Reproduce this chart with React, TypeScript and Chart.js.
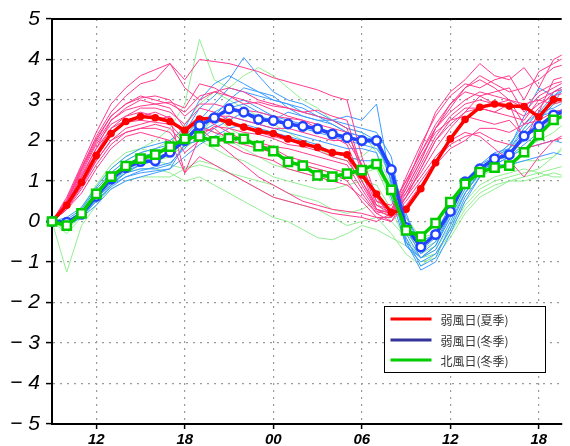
import React, { useEffect, useRef } from 'react';
import { Chart, registerables } from 'chart.js';

Chart.register(...registerables);

// hours since 00 of day 1 (09 .. 44 = 20 of day 2)
const HOURS = [9, 10, 11, 12, 13, 14, 15, 16, 17, 18, 19, 20, 21, 22, 23, 24, 25, 26, 27, 28, 29, 30, 31, 32, 33, 34, 35, 36, 37, 38, 39, 40, 41, 42, 43, 44];

const X_TICK_HOURS = [12, 18, 24, 30, 36, 42];
const X_TICK_LABELS = ['12', '18', '00', '06', '12', '18'];
const Y_MIN = -5;
const Y_MAX = 5;

const LEGEND_LABELS = ['弱風日(夏季)', '弱風日(冬季)', '北風日(冬季)'];

// bold mean lines
const RED_SUMMER = [0, 0.4, 0.97, 1.63, 2.17, 2.47, 2.59, 2.56, 2.47, 2.25, 2.53, 2.55, 2.45, 2.33, 2.23, 2.17, 2.04, 1.92, 1.83, 1.7, 1.65, 1.15, 0.68, 0.22, 0.3, 0.81, 1.45, 2.04, 2.52, 2.82, 2.9, 2.85, 2.84, 2.58, 3.01, 3.0];
const BLUE_WINTER = [0, -0.02, 0.18, 0.62, 1.05, 1.33, 1.48, 1.5, 1.71, 2.0, 2.37, 2.56, 2.78, 2.7, 2.52, 2.49, 2.41, 2.35, 2.29, 2.16, 2.07, 2.0, 2.0, 1.28, -0.15, -0.63, -0.32, 0.25, 0.98, 1.3, 1.55, 1.65, 2.11, 2.35, 2.63, 2.75];
const GREEN_NORTH = [0, -0.1, 0.2, 0.68, 1.11, 1.37, 1.55, 1.65, 1.85, 2.04, 2.1, 1.98, 2.06, 2.04, 1.86, 1.74, 1.47, 1.38, 1.14, 1.11, 1.18, 1.27, 1.42, 0.78, -0.22, -0.37, -0.04, 0.48, 0.93, 1.22, 1.33, 1.38, 1.71, 2.14, 2.51, 2.65];

// thin member lines: weak-wind summer days
const S1 = [0, 0.6, 1.4, 2.2, 2.9, 3.3, 3.6, 3.75, 3.9, 3.5, 4.0, 3.95, 3.9, 3.8, 3.7, 3.55, 3.45, 3.35, 3.25, 3.1, 3.0, 1.6, 0.6, 0.1, 0.9, 1.8, 2.7, 3.2, 3.5, 3.9, 3.6, 3.5, 3.8, 3.3, 4.0, 4.2];
const S2 = [0, 0.5, 1.3, 2.1, 2.7, 3.1, 3.4, 3.5, 3.9, 3.3, 3.0, 3.2, 3.1, 2.9, 2.95, 2.85, 2.8, 2.7, 2.75, 2.6, 2.5, 1.3, 0.4, 0.2, 1.1, 1.9, 2.6, 3.1, 3.4, 3.3, 3.5, 3.6, 3.0, 3.7, 3.9, 4.1];
const S3 = [0, 0.4, 1.0, 1.7, 2.3, 2.6, 2.8, 2.8, 2.7, 2.4, 2.8, 2.7, 2.5, 2.3, 2.2, 2.1, 2.0, 1.9, 1.85, 1.7, 1.6, 0.9, 0.3, 0.1, 0.7, 1.4, 2.1, 2.6, 2.9, 3.0, 2.9, 2.8, 2.6, 2.9, 3.1, 3.2];
const S4 = [0, 0.3, 0.8, 1.4, 1.9, 2.2, 2.3, 2.3, 2.2, 1.7, 2.0, 2.1, 1.9, 1.7, 1.6, 1.5, 1.3, 1.2, 1.1, 1.0, 0.9, 0.6, 0.2, 0.3, 0.9, 1.6, 2.2, 2.5, 2.6, 2.5, 2.4, 2.5, 2.1, 2.3, 2.6, 2.7];
const S5 = [0, 0.3, 0.7, 1.3, 1.8, 2.1, 2.2, 2.1, 2.0, 1.2, 1.6, 1.4, 1.2, 1.0, 0.8, 0.6, 0.5, 0.4, 0.3, 0.2, 0.15, 0.1, 0.0, 0.2, 0.6, 1.1, 1.6, 2.0, 2.2, 2.1, 1.8, 1.5, 1.1, 1.6, 2.0, 2.2];
const S6 = [0, 0.5, 1.2, 1.9, 2.4, 2.6, 2.7, 2.6, 2.5, 2.2, 2.5, 2.6, 2.6, 2.5, 2.4, 2.3, 2.3, 2.2, 2.1, 2.0, 2.0, 1.4, 0.5, 0.4, 1.0, 1.7, 2.4, 2.9, 3.2, 3.1, 2.9, 3.0, 2.4, 2.8, 3.2, 3.4];
const S7 = [0, 0.4, 1.1, 1.8, 2.5, 2.8, 3.0, 2.9, 2.8, 2.3, 2.6, 2.4, 2.2, 2.0, 1.9, 1.8, 1.6, 1.5, 1.4, 1.3, 1.2, 0.7, 0.2, 0.0, 0.6, 1.3, 2.0, 2.5, 2.8, 2.8, 2.7, 2.6, 2.5, 3.0, 2.9, 3.0];
const S8 = [0, 0.5, 1.3, 2.0, 2.6, 2.9, 3.1, 3.0, 2.9, 2.7, 3.1, 3.2, 3.3, 3.2, 3.0, 2.9, 2.8, 2.7, 2.6, 2.5, 2.3, 1.2, 0.3, 0.2, 0.8, 1.5, 2.3, 2.8, 3.3, 3.6, 3.4, 3.2, 3.3, 3.5, 3.8, 3.9];
const S9 = [0, 0.3, 0.9, 1.5, 2.0, 2.3, 2.4, 2.5, 2.6, 2.1, 2.3, 2.0, 1.7, 1.4, 1.1, 0.9, 0.7, 0.5, 0.4, 0.3, 0.25, 0.2, 0.1, 0.1, 0.5, 1.0, 1.5, 1.9, 2.1, 2.2, 2.0, 1.9, 1.8, 1.9, 2.0, 2.1];
const S10 = [0, 0.45, 1.15, 1.8, 2.3, 2.5, 2.6, 2.7, 2.55, 1.2, 2.1, 2.35, 2.3, 2.2, 2.15, 2.05, 1.9, 1.85, 1.75, 1.6, 1.5, 1.0, 0.4, 0.3, 0.7, 1.2, 1.8, 2.3, 2.7, 2.8, 2.7, 2.9, 2.0, 2.7, 3.5, 3.6];
const S11 = [0, 0.55, 1.35, 2.05, 2.6, 2.9, 3.05, 3.1, 3.0, 2.6, 2.9, 2.9, 2.8, 2.75, 2.7, 2.6, 2.55, 2.5, 2.4, 2.3, 2.2, 1.4, 0.5, 0.3, 1.0, 1.7, 2.3, 2.7, 3.0, 3.2, 3.1, 3.0, 2.8, 3.2, 3.4, 3.5];
const S12 = [0, 0.35, 0.85, 1.5, 2.0, 2.2, 2.3, 2.4, 2.3, 1.9, 2.2, 2.3, 2.0, 1.9, 1.8, 1.7, 1.5, 1.4, 1.3, 1.2, 1.0, 0.5, 0.1, 0.0, 0.4, 0.9, 1.4, 1.8, 2.0, 2.3, 2.3, 2.2, 2.4, 2.5, 2.7, 2.8];
const S13 = [0, 0.5, 1.25, 1.95, 2.5, 2.75, 2.85, 2.9, 2.95, 2.8, 3.4, 3.3, 3.1, 3.0, 2.9, 2.75, 2.6, 2.5, 2.3, 2.1, 1.9, 1.0, 0.3, 0.2, 0.6, 1.3, 2.0, 2.4, 2.7, 3.1, 3.2, 3.3, 2.7, 3.1, 3.3, 3.5];
const S14 = [0, 0.45, 1.1, 1.7, 2.2, 2.45, 2.5, 2.45, 2.4, 2.0, 2.35, 2.2, 2.1, 2.0, 1.95, 1.85, 1.8, 1.7, 1.6, 1.5, 1.4, 0.8, 0.25, 0.15, 0.8, 1.5, 2.3, 2.9, 3.3, 3.5, 3.3, 3.0, 2.9, 3.0, 3.2, 3.3];
const SUMMER_RUNS = [S1, S2, S3, S4, S5, S6, S7, S8, S9, S10, S11, S12, S13, S14];

// thin member lines: weak-wind winter days
const W1 = [0, -0.1, 0.1, 0.5, 0.9, 1.2, 1.4, 1.5, 1.7, 2.2, 2.8, 3.1, 3.5, 4.05, 3.6, 3.2, 3.0, 2.9, 2.7, 2.5, 2.3, 2.2, 2.0, 1.0, -0.5, -0.9, -0.7, 0.0, 0.7, 1.2, 1.5, 1.7, 2.1, 2.5, 2.9, 3.5];
const W2 = [0, 0.0, 0.2, 0.7, 1.1, 1.4, 1.6, 1.7, 1.8, 2.1, 2.5, 2.9, 3.3, 3.2, 3.1, 3.0, 2.9, 2.7, 2.6, 2.5, 2.4, 2.3, 2.2, 1.6, -0.2, -0.8, -0.5, 0.2, 0.9, 1.4, 1.7, 1.8, 2.3, 2.7, 3.1, 3.3];
const W3 = [0, -0.05, 0.15, 0.55, 0.95, 1.2, 1.3, 1.3, 1.4, 1.9, 2.2, 2.4, 2.6, 2.5, 2.4, 2.3, 2.2, 2.1, 2.0, 1.9, 1.8, 1.8, 1.7, 0.6, -0.6, -1.0, -0.8, -0.2, 0.6, 1.1, 1.4, 1.6, 1.9, 2.2, 2.6, 2.9];
const W4 = [0, 0.05, 0.3, 0.8, 1.2, 1.5, 1.7, 1.8, 1.9, 2.0, 2.4, 2.7, 2.9, 3.0, 2.8, 2.6, 2.5, 2.4, 2.3, 2.2, 2.1, 2.0, 1.9, 1.2, 0.1, -0.5, -0.3, 0.4, 1.0, 1.3, 1.4, 1.4, 1.5, 1.6, 1.7, 1.6];
const W5 = [0, -0.1, 0.1, 0.4, 0.8, 1.0, 1.1, 1.2, 1.3, 1.9, 2.0, 2.3, 2.5, 2.7, 2.6, 2.5, 2.7, 2.6, 2.5, 2.5, 2.6, 2.5, 2.9, 0.9, -0.6, -0.9, -0.6, 0.1, 0.8, 1.2, 1.5, 1.7, 2.0, 2.4, 3.2, 3.4];
const W6 = [0, 0.0, 0.25, 0.7, 1.0, 1.25, 1.4, 1.55, 1.7, 2.0, 2.2, 2.6, 3.0, 3.3, 3.2, 3.1, 2.8, 2.6, 2.5, 2.4, 2.2, 2.1, 1.9, 1.4, -0.4, -1.1, -0.9, -0.1, 0.7, 1.2, 1.6, 1.9, 2.4, 2.7, 2.8, 3.0];
const W7 = [0, -0.05, 0.2, 0.6, 0.9, 1.1, 1.2, 1.25, 1.3, 1.6, 1.9, 2.1, 2.3, 2.4, 2.3, 2.2, 2.1, 2.0, 1.9, 1.7, 1.6, 1.5, 1.5, 0.8, -0.3, -0.9, -0.6, 0.2, 0.9, 1.2, 1.4, 1.6, 1.8, 1.9, 2.0, 1.9];
const W8 = [0, 0.1, 0.35, 0.85, 1.3, 1.6, 1.8, 1.9, 2.0, 2.3, 3.0, 3.4, 3.6, 3.4, 3.2, 3.0, 2.9, 2.8, 2.6, 2.4, 2.2, 2.1, 2.0, 1.1, -0.5, -1.2, -1.0, -0.3, 0.5, 1.1, 1.5, 1.8, 2.6, 3.3, 3.1, 3.4];
const W9 = [0, -0.05, 0.15, 0.5, 0.85, 1.1, 1.25, 1.35, 1.45, 1.8, 2.3, 2.6, 2.8, 2.9, 2.7, 2.6, 2.4, 2.3, 2.2, 2.1, 2.0, 1.9, 1.8, 1.3, 0.2, -0.7, -0.4, 0.3, 1.0, 1.4, 1.6, 1.8, 2.2, 2.6, 2.7, 2.8];
const WINTER_RUNS = [W1, W2, W3, W4, W5, W6, W7, W8, W9];

// thin member lines: north-wind winter days
const N1 = [0, -1.25, -0.1, 0.4, 0.9, 1.2, 1.4, 1.5, 1.6, 1.9, 2.0, 1.8, 1.6, 1.5, 1.3, 1.1, 1.0, 0.9, 0.8, 0.8, 0.9, 1.0, 0.9, 0.3, -0.5, -0.9, -0.7, -0.1, 0.5, 0.9, 1.1, 1.2, 1.3, 1.2, 1.1, 1.1];
const N2 = [0, -0.2, 0.3, 0.9, 1.3, 1.6, 1.8, 2.0, 2.3, 2.9, 4.5, 3.5, 3.3, 3.6, 3.8, 3.6, 3.3, 3.0, 2.8, 2.5, 2.3, 2.2, 1.7, 0.9, -0.2, -0.8, -0.6, 0.1, 0.7, 1.2, 1.6, 1.9, 2.3, 2.7, 2.9, 3.0];
const N3 = [0, -0.1, 0.2, 0.6, 1.0, 1.2, 1.3, 1.3, 1.2, 1.0, 1.1, 0.9, 0.7, 0.5, 0.3, 0.1, 0.0, -0.2, -0.4, -0.45, -0.3, -0.1, -0.2, -0.4, -0.6, -1.0, -0.9, -0.4, 0.2, 0.6, 0.8, 1.0, 1.1, 1.2, 1.3, 1.4];
const N4 = [0, -0.15, 0.25, 0.8, 1.2, 1.5, 1.7, 1.8, 2.0, 2.2, 2.4, 2.2, 2.0, 1.8, 1.6, 1.4, 1.3, 1.2, 1.1, 1.0, 1.1, 1.3, 1.4, 0.6, -0.3, -0.7, -0.5, 0.3, 0.9, 1.3, 1.5, 1.6, 1.8, 2.0, 2.2, 2.5];
const N5 = [0, -0.3, 0.1, 0.5, 0.8, 1.0, 1.1, 1.1, 1.1, 1.3, 1.5, 1.4, 1.2, 1.0, 0.8, 0.6, 0.5, 0.4, 0.3, 0.1, -0.1, 0.0, 0.1, -0.3, -0.8, -1.1, -0.8, -0.2, 0.4, 0.8, 1.0, 1.1, 1.2, 1.3, 1.6, 1.9];
const N6 = [0, -0.05, 0.35, 0.9, 1.4, 1.7, 1.8, 1.7, 1.9, 2.4, 2.9, 3.2, 3.0, 2.8, 2.6, 2.4, 2.2, 2.0, 1.8, 1.6, 1.5, 1.6, 1.9, 1.0, 0.1, -0.4, -0.3, 0.3, 0.9, 1.3, 1.6, 1.8, 2.1, 2.4, 2.6, 2.8];
const N7 = [0, -0.2, 0.15, 0.6, 1.0, 1.3, 1.5, 1.6, 1.7, 1.8, 2.1, 2.6, 2.3, 2.1, 1.9, 1.7, 1.5, 1.4, 1.3, 1.2, 1.1, 1.2, 1.3, 0.5, -0.1, -0.6, -0.4, 0.2, 0.8, 1.1, 1.3, 1.4, 1.5, 1.5, 1.6, 2.0];
const N8 = [0, -0.1, 0.3, 0.7, 1.1, 1.4, 1.5, 1.5, 1.4, 1.3, 1.4, 1.3, 1.2, 1.1, 1.0, 0.9, 0.7, 0.6, 0.5, 0.3, 0.2, 0.3, 0.5, 0.0, -0.4, -0.9, -0.8, -0.3, 0.3, 0.7, 0.9, 1.0, 1.0, 1.1, 1.2, 1.1];
const NORTH_RUNS = [N1, N2, N3, N4, N5, N6, N7, N8];

const toPoints = (vals: number[]) => vals.map((y, i) => ({ x: HOURS[i], y }));

const frameAndLegend = {
  id: 'frameAndLegend',
  afterDraw(chart: any) {
    const { ctx, chartArea: a } = chart;
    ctx.save();
    // top frame line
    ctx.strokeStyle = '#000';
    ctx.lineWidth = 2;
    ctx.beginPath();
    ctx.moveTo(a.left - 1, a.top);
    ctx.lineTo(a.right, a.top);
    ctx.stroke();

    // legend box
    const bx = a.left + 332.5;
    const by = a.top + 287.5;
    const bw = 161;
    const bh = 66;
    ctx.fillStyle = '#ffffff';
    ctx.fillRect(bx, by, bw, bh);
    ctx.strokeStyle = '#000';
    ctx.lineWidth = 1;
    ctx.strokeRect(bx, by, bw, bh);
    const colors = ['#ff0000', '#333399', '#00cc00'];
    const rows = [12.5, 33.5, 53.5];
    ctx.font = '12px "Noto Sans CJK JP", "Noto Sans", sans-serif';
    ctx.textBaseline = 'middle';
    ctx.textAlign = 'left';
    LEGEND_LABELS.forEach((label, i) => {
      const y = by + rows[i];
      ctx.strokeStyle = colors[i];
      ctx.lineWidth = 3;
      ctx.beginPath();
      ctx.moveTo(bx + 6, y);
      ctx.lineTo(bx + 47, y);
      ctx.stroke();
      ctx.fillStyle = '#333333';
      ctx.fillText(label, bx + 56, y + 1);
    });
    ctx.restore();
  },
};

export default function App() {
  const canvasRef = useRef<HTMLCanvasElement | null>(null);

  useEffect(() => {
    const canvas = canvasRef.current;
    if (!canvas) return;
    Chart.defaults.font.family = '"Liberation Sans", Arial, sans-serif';

    const thin = (runs: number[][], color: string, order: number) =>
      runs.map((r) => ({
        data: toPoints(r),
        borderColor: color,
        borderWidth: 1,
        pointRadius: 0,
        tension: 0,
        order,
        clip: { left: 0, top: 0, right: 0, bottom: 0 },
      }));

    const chart = new Chart(canvas, {
      type: 'line',
      data: {
        datasets: [
          {
            label: LEGEND_LABELS[2],
            data: toPoints(GREEN_NORTH),
            borderColor: '#00cc00',
            borderWidth: 3.5,
            pointStyle: 'rect',
            pointRadius: 5.8,
            pointBorderWidth: 2.5,
            pointBackgroundColor: '#ffffff',
            pointBorderColor: '#00cc00',
            order: 0,
            clip: { left: 8, top: 0, right: 0, bottom: 0 },
          },
          {
            label: LEGEND_LABELS[1],
            data: toPoints(BLUE_WINTER),
            borderColor: '#2244ff',
            borderWidth: 3.5,
            pointStyle: 'circle',
            pointRadius: 4.3,
            pointBorderWidth: 2.5,
            pointBackgroundColor: '#ffffff',
            pointBorderColor: '#2244ff',
            order: 1,
            clip: { left: 8, top: 0, right: 0, bottom: 0 },
          },
          {
            label: LEGEND_LABELS[0],
            data: toPoints(RED_SUMMER),
            borderColor: '#ff0000',
            borderWidth: 3.5,
            pointStyle: 'circle',
            pointRadius: 3.8,
            pointBorderWidth: 0,
            pointBackgroundColor: '#ff0000',
            pointBorderColor: '#ff0000',
            order: 2,
            clip: { left: 8, top: 0, right: 0, bottom: 0 },
          },
          ...thin(SUMMER_RUNS, '#ff3b8e', 3),
          ...thin(WINTER_RUNS, '#3d9bff', 4),
          ...thin(NORTH_RUNS, '#93ee93', 5),
        ] as any,
      },
      options: {
        animation: false,
        responsive: true,
        maintainAspectRatio: false,
        layout: { padding: { left: 0, right: 0, top: 19, bottom: 0 } },
        plugins: { legend: { display: false }, tooltip: { enabled: false } },
        elements: { line: { tension: 0 } },
        scales: {
          x: {
            type: 'linear',
            min: 9,
            max: 43.55,
            afterBuildTicks: (scale: any) => {
              scale.ticks = X_TICK_HOURS.map((v) => ({ value: v }));
            },
            afterFit: (scale: any) => {
              scale.height = 22;
            },
            grid: {
              color: '#9a9a9a',
              lineWidth: 1.2,
              tickColor: '#000',
              tickLength: 5,
              tickWidth: 1.5,
            },
            border: { display: true, color: '#000', width: 2, dash: [2, 5] },
            ticks: {
              autoSkip: false,
              maxRotation: 0,
              padding: 2,
              color: '#000',
              font: { size: 15, weight: 'bold', style: 'italic' },
              callback: (v: any) => {
                const i = X_TICK_HOURS.indexOf(Number(v));
                return i >= 0 ? X_TICK_LABELS[i] : '';
              },
            },
          },
          y: {
            type: 'linear',
            min: Y_MIN,
            max: Y_MAX,
            afterFit: (scale: any) => {
              scale.width = 52;
            },
            grid: {
              color: '#9a9a9a',
              lineWidth: 1.2,
              tickColor: '#000',
              tickLength: 6,
              tickWidth: 1.5,
            },
            border: { display: true, color: '#000', width: 2, dash: [2, 5] },
            ticks: {
              stepSize: 1,
              padding: 6,
              color: '#000',
              font: { size: 21, style: 'italic' },
              callback: (v: any) => (Number(v) < 0 ? '\u2212 ' + Math.abs(Number(v)) : String(v)),
            },
          },
        },
      } as any,
      plugins: [frameAndLegend],
    });
    return () => chart.destroy();
  }, []);

  return (
    <div style={{ position: 'fixed', left: 0, top: 0, width: 570, height: 446, background: '#ffffff' }}>
      <canvas ref={canvasRef} />
    </div>
  );
}
